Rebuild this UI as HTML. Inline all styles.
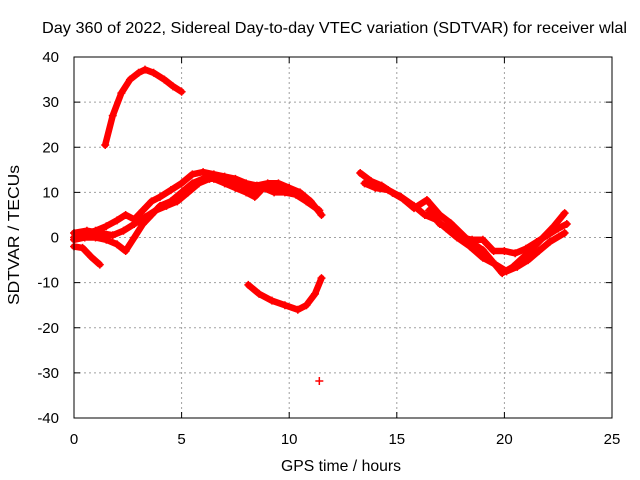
<!DOCTYPE html>
<html><head><meta charset="utf-8"><style>
body{margin:0;background:#fff;}
svg{display:block;font-family:"Liberation Sans",sans-serif;}
</style></head><body>
<svg id="chart" width="640" height="480" viewBox="0 0 640 480">
<rect width="640" height="480" fill="#fff"/>
<text x="42" y="33" font-size="16" textLength="585" lengthAdjust="spacingAndGlyphs">Day 360 of 2022, Sidereal Day-to-day VTEC variation (SDTVAR) for receiver wlal</text>
<text x="281" y="471" font-size="16" textLength="120" lengthAdjust="spacingAndGlyphs">GPS time / hours</text>
<text transform="translate(19,305) rotate(-90)" font-size="16" textLength="140" lengthAdjust="spacingAndGlyphs">SDTVAR / TECUs</text>
<g id="grid"></g>
<g id="ticks"></g>
<g id="marks"></g>
<rect x="74" y="57" width="538" height="361" fill="none" stroke="#000" stroke-width="1"/>
</svg>
<script>
const xTicks=[0,5,10,15,20,25];
const yTicks=[-40,-30,-20,-10,0,10,20,30,40];
// tracks: hours and values (TECU)
const t1h=[1.45,1.8,2.2,2.6,3.0,3.3,3.7,4.2,4.6,5.0];
const t1v=[20.5,27,32,35,36.5,37.2,36.5,35,33.5,32.3];
const t2h=[0.0,0.4,0.8,1.2];
const t2v=[-2,-2.3,-4.3,-6];
const t3h=[0,0.5,1,1.5,2,2.4,2.8,3.2,3.6,4.0,4.5,5.0,5.5,6.0,6.5,7.0,7.5,8.0,8.5,9.0,9.5,10.0,10.5,11.0,11.5];
const t3v=[0,0.8,1.5,2.5,3.8,5,4,6,8,9,10.5,12,14,14.5,14,13.5,13,12,11.5,12,12,11,10,8,5];
const t4h=[0,0.5,1,1.5,2,2.4,2.8,3.2,3.6,4.0,4.5,5.0,5.5,6.0,6.5,7.0,7.5,8.0,8.4,8.8,9.3,9.8,10.3,10.8,11.4];
const t4v=[-0.5,0,0,-0.5,-1.5,-3,0,3,5,7,8,10,12,13,13,12,11,10,9,11,10,10,9.5,8,6];
const t5h=[0,0.6,1.2,1.8,2.3,2.8,3.3,3.8,4.3,4.8,5.3,5.8,6.3,6.8,7.3,7.8,8.3,8.8,9.3,9.8];
const t5v=[1,1.5,1,0.5,1.5,3,4.5,6,7,8,10,12,13,13.5,12.5,11,10.5,11.5,11,10.5];
const t6h=[8.1,8.6,9.2,9.8,10.4,10.8,11.2,11.5];
const t6v=[-10.5,-12.5,-14,-15,-16,-15,-12.5,-9];
const t7h=[11.4];
const t7v=[-31.8];
const r1h=[13.3,13.8,14.3,14.8,15.3,15.8,16.4,17.0,17.5,18.3,19.0,19.9,20.4,20.9,21.4,21.8,22.3,22.8];
const r1v=[14.3,12.5,11.5,9.9,8.5,6.5,8.3,5,3.2,-0.5,-2.8,-7.9,-6.5,-4.3,-2,0,2.5,5.4];
const r2h=[13.5,14.0,14.6,15.2,15.8,16.3,16.8,17.3,17.8,18.4,19.0,19.6,20.1,20.6,21.1,21.6,22.1,22.8];
const r2v=[12,11,10.5,9,7,5,4,2,0,-2,-4.5,-6,-7.5,-6.5,-5,-3,-1,1];
const r3h=[16.5,17.0,17.5,18.0,18.5,19.0,19.5,20.0,20.5,21.0,21.5,22.0,22.5,22.9];
const r3v=[6,3,2,0,-0.5,-0.5,-3,-3,-3.5,-2.5,-1,0.5,2,3];

const X0=74,X1=612,Y0=418,Y1=57;
const xs=h=>X0+(h-0)/(25-0)*(X1-X0);
const ys=v=>Y0-(v+40)/80*(Y0-Y1);
const NS="http://www.w3.org/2000/svg";
const grid=document.getElementById('grid'),ticks=document.getElementById('ticks'),marks=document.getElementById('marks');
function mk(tag,attrs,parent){const e=document.createElementNS(NS,tag);for(const k in attrs)e.setAttribute(k,attrs[k]);parent.appendChild(e);return e;}
xTicks.forEach(t=>{
  const x=xs(t);
  if(t>0&&t<25){const g=mk('line',{x1:x,x2:x,y1:Y1,y2:Y0,stroke:'#a0a0a0','stroke-dasharray':'2,3'},grid);
  
  }
  mk('line',{x1:x,x2:x,y1:Y0,y2:Y0-6,stroke:'#000'},ticks);
  mk('line',{x1:x,x2:x,y1:Y1,y2:Y1+6,stroke:'#000'},ticks);
  const l=mk('text',{x:x,y:444,'font-size':15,'text-anchor':'middle'},ticks);l.textContent=t;
  
  
});
yTicks.forEach(t=>{
  const y=ys(t);
  if(t>-40&&t<40){const g=mk('line',{x1:X0,x2:X1,y1:y,y2:y,stroke:'#a0a0a0','stroke-dasharray':'2,3'},grid);
  
  }
  mk('line',{x1:X0,x2:X0+6,y1:y,y2:y,stroke:'#000'},ticks);
  mk('line',{x1:X1,x2:X1-6,y1:y,y2:y,stroke:'#000'},ticks);
  const l=mk('text',{x:59,y:y+5,'font-size':15,'text-anchor':'end'},ticks);l.textContent=t;
  
  
});
const tracks=[[t1h,t1v],[t2h,t2v],[t3h,t3v],[t4h,t4v],[t5h,t5v],[t6h,t6v],[t7h,t7v],[r1h,r1v],[r2h,r2v],[r3h,r3v]];
tracks.forEach((tr,i)=>{
  const [hs,vs]=tr;
  const pts=hs.map((h,j)=>xs(h).toFixed(1)+','+ys(vs[j]).toFixed(1)).join(' ');
  if(hs.length>1){const p=mk('polyline',{points:pts,fill:'none',stroke:'#f00','stroke-width':6.5,'stroke-linejoin':'round','stroke-linecap':'round'},marks);
  
  }
  hs.forEach((h,j)=>{
    const x=xs(h),y=ys(vs[j]);
    const m=mk('path',{d:`M${x-4},${y}H${x+4}M${x},${y-4}V${y+4}`,stroke:'#f00','stroke-width':1.5},marks);
    
    
  });
});
</script>
</body></html>
